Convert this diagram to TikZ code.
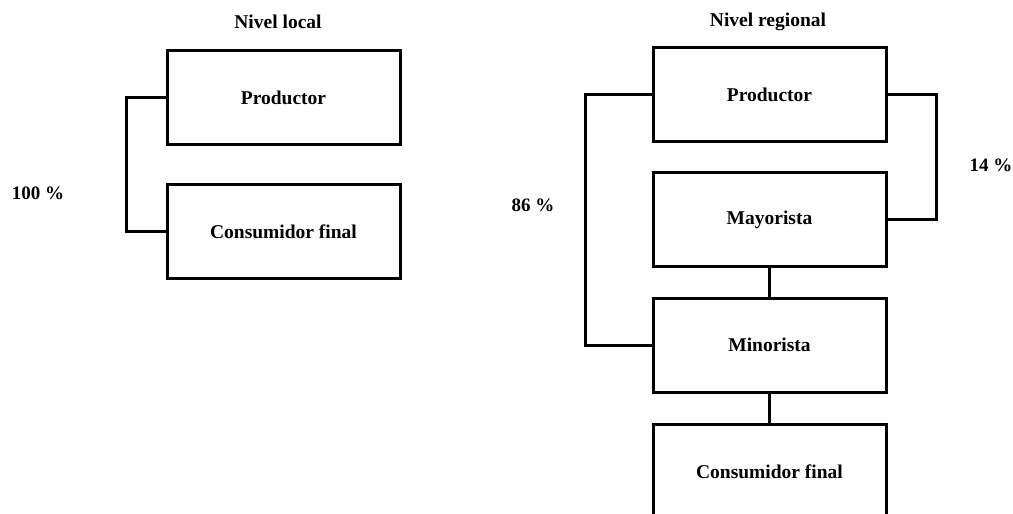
\documentclass[tikz,border=0pt]{standalone}
\usepackage{fontspec}
\setmainfont{Liberation Serif}
\usetikzlibrary{positioning}

\tikzset{
  etapa/.style={draw, line width=3pt, minimum width=233pt, minimum height=94pt,
    inner sep=0pt, font=\fontsize{19.5}{23}\selectfont\bfseries},
  nivel/.style={font=\fontsize{19.5}{23}\selectfont\bfseries},
  pct/.style={font=\fontsize{19}{23}\selectfont\bfseries},
  canal/.style={line width=3pt}
}

\begin{document}
\begin{tikzpicture}[x=1pt,y=-1pt]
            \useasboundingbox (0,0) rectangle (1013,514);

            % nivel local
            \node[nivel] (tituloL) at (278,22) {Nivel local};
            \node[etapa] (prodL) at (283.5,97.5) {Productor};
            \node[etapa, below=37pt of prodL] (consL) {Consumidor final};
            \node[pct] (pctL) at (38,193) {100 \%};

            \draw[canal] (prodL.west) -- ++(-39,0) |- (consL.west);

            % nivel regional
            \node[nivel] (tituloR) at (768,22) {Nivel regional};
            \node[etapa] (prodR) at (769.5,94.5) {Productor};
            \node[etapa, below=28pt of prodR] (mayR) {Mayorista};
            \node[etapa, below=28.5pt of mayR] (minR) {Minorista};
            \node[etapa, below=29.5pt of minR] (consR) {Consumidor final};
            \node[pct] (pctA) at (533,205) {86 \%};
            \node[pct] (pctB) at (991,165) {14 \%};

            \draw[canal] (prodR.west) -- ++(-66,0) |- (minR.west);
            \draw[canal] (prodR.east) -- ++(49,0) |- (mayR.east);
            \draw[canal] (mayR) -- (minR);
            \draw[canal] (minR) -- (consR);
        \end{tikzpicture}
\end{document}
